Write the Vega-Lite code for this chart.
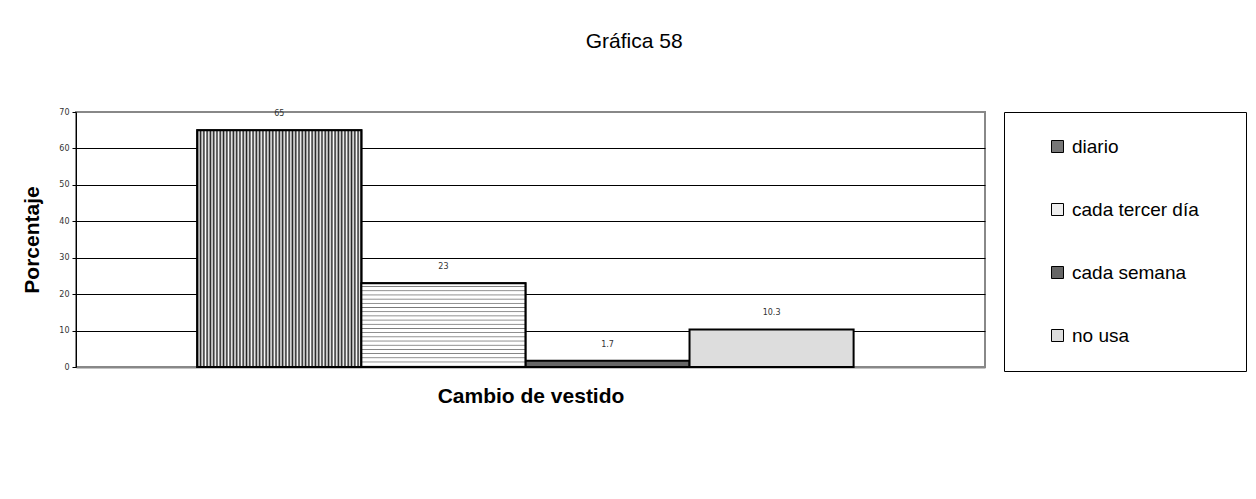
{
  "$schema": "https://vega.github.io/schema/vega-lite/v6.json",
  "width": 909,
  "height": 255,
  "padding": {"left": 21, "top": 31, "right": 3, "bottom": 5},
  "background": "white",
  "title": {"text": "Gráfica 58", "font": "Liberation Sans", "fontSize": 21, "fontWeight": "normal", "color": "black", "anchor": "middle", "frame": "bounds", "offset": 56},
  "data": {"values": [
    {"cat": "diario", "val": 65},
    {"cat": "cada tercer día", "val": 23},
    {"cat": "cada semana", "val": 1.7},
    {"cat": "no usa", "val": 10.3}
  ]},
  "encoding": {
    "x": {"field": "cat", "type": "nominal", "sort": ["diario", "cada tercer día", "cada semana", "no usa"],
      "scale": {"paddingInner": 0, "paddingOuter": 0.77, "align": 0.48},
      "axis": {"title": "Cambio de vestido", "labels": false, "ticks": false, "domainColor": "#888", "domainWidth": 2, "titleFont": "Liberation Sans", "titleFontSize": 21, "titleFontWeight": "bold", "titleColor": "black", "titlePadding": 18}},
    "y": {"field": "val", "type": "quantitative", "scale": {"domain": [0, 70], "nice": false},
      "axis": {"title": "Porcentaje", "values": [0, 10, 20, 30, 40, 50, 60, 70], "domainColor": "black", "domainWidth": 1, "tickColor": "black", "tickSize": 4, "labelFont": "DejaVu Sans", "labelFontSize": 8, "labelColor": "#333", "labelPadding": 3,
        "gridColor": {"condition": {"test": "datum.value === 0 || datum.value === 70", "value": "#888"}, "value": "black"}, "gridWidth": 1,
        "titleFont": "Liberation Sans", "titleFontSize": 21, "titleFontWeight": "bold", "titleColor": "black", "titlePadding": 16}}
  },
  "layer": [
    {
      "mark": {"type": "bar", "stroke": "black", "strokeWidth": 2},
      "encoding": {
        "fill": {"field": "cat", "type": "nominal",
          "scale": {"domain": ["diario", "cada tercer día", "cada semana", "no usa"], "range": ["#777", "#eeeeee", "#666", "#dddddd"]},
          "legend": {"title": " ", "titleOrient": "right", "titlePadding": 22, "titleFontSize": 10, "orient": "right", "offset": 19, "padding": 25, "strokeColor": "black", "symbolType": "square", "symbolSize": 144, "symbolStrokeColor": "black", "symbolStrokeWidth": 1, "symbolOffset": 19, "labelFont": "Liberation Sans", "labelFontSize": 19, "labelColor": "black", "labelOffset": 5, "labelLimit": 400, "rowPadding": 43}}
      }
    },
    {
      "transform": [{"filter": "datum.cat === 'diario'"}],
      "mark": {"type": "bar", "stroke": "black", "strokeWidth": 2, "fill": {"gradient": "linear", "x1": 0, "y1": 0, "x2": 1, "y2": 0, "stops": [
        {"offset": 0.00, "color": "#222"}, {"offset": 0.01, "color": "#fff"}, {"offset": 0.02, "color": "#222"}, {"offset": 0.03, "color": "#fff"}, {"offset": 0.04, "color": "#222"}, {"offset": 0.05, "color": "#fff"}, {"offset": 0.06, "color": "#222"}, {"offset": 0.07, "color": "#fff"}, {"offset": 0.08, "color": "#222"}, {"offset": 0.09, "color": "#fff"},
        {"offset": 0.10, "color": "#222"}, {"offset": 0.11, "color": "#fff"}, {"offset": 0.12, "color": "#222"}, {"offset": 0.13, "color": "#fff"}, {"offset": 0.14, "color": "#222"}, {"offset": 0.15, "color": "#fff"}, {"offset": 0.16, "color": "#222"}, {"offset": 0.17, "color": "#fff"}, {"offset": 0.18, "color": "#222"}, {"offset": 0.19, "color": "#fff"},
        {"offset": 0.20, "color": "#222"}, {"offset": 0.21, "color": "#fff"}, {"offset": 0.22, "color": "#222"}, {"offset": 0.23, "color": "#fff"}, {"offset": 0.24, "color": "#222"}, {"offset": 0.25, "color": "#fff"}, {"offset": 0.26, "color": "#222"}, {"offset": 0.27, "color": "#fff"}, {"offset": 0.28, "color": "#222"}, {"offset": 0.29, "color": "#fff"},
        {"offset": 0.30, "color": "#222"}, {"offset": 0.31, "color": "#fff"}, {"offset": 0.32, "color": "#222"}, {"offset": 0.33, "color": "#fff"}, {"offset": 0.34, "color": "#222"}, {"offset": 0.35, "color": "#fff"}, {"offset": 0.36, "color": "#222"}, {"offset": 0.37, "color": "#fff"}, {"offset": 0.38, "color": "#222"}, {"offset": 0.39, "color": "#fff"},
        {"offset": 0.40, "color": "#222"}, {"offset": 0.41, "color": "#fff"}, {"offset": 0.42, "color": "#222"}, {"offset": 0.43, "color": "#fff"}, {"offset": 0.44, "color": "#222"}, {"offset": 0.45, "color": "#fff"}, {"offset": 0.46, "color": "#222"}, {"offset": 0.47, "color": "#fff"}, {"offset": 0.48, "color": "#222"}, {"offset": 0.49, "color": "#fff"},
        {"offset": 0.50, "color": "#222"}, {"offset": 0.51, "color": "#fff"}, {"offset": 0.52, "color": "#222"}, {"offset": 0.53, "color": "#fff"}, {"offset": 0.54, "color": "#222"}, {"offset": 0.55, "color": "#fff"}, {"offset": 0.56, "color": "#222"}, {"offset": 0.57, "color": "#fff"}, {"offset": 0.58, "color": "#222"}, {"offset": 0.59, "color": "#fff"},
        {"offset": 0.60, "color": "#222"}, {"offset": 0.61, "color": "#fff"}, {"offset": 0.62, "color": "#222"}, {"offset": 0.63, "color": "#fff"}, {"offset": 0.64, "color": "#222"}, {"offset": 0.65, "color": "#fff"}, {"offset": 0.66, "color": "#222"}, {"offset": 0.67, "color": "#fff"}, {"offset": 0.68, "color": "#222"}, {"offset": 0.69, "color": "#fff"},
        {"offset": 0.70, "color": "#222"}, {"offset": 0.71, "color": "#fff"}, {"offset": 0.72, "color": "#222"}, {"offset": 0.73, "color": "#fff"}, {"offset": 0.74, "color": "#222"}, {"offset": 0.75, "color": "#fff"}, {"offset": 0.76, "color": "#222"}, {"offset": 0.77, "color": "#fff"}, {"offset": 0.78, "color": "#222"}, {"offset": 0.79, "color": "#fff"},
        {"offset": 0.80, "color": "#222"}, {"offset": 0.81, "color": "#fff"}, {"offset": 0.82, "color": "#222"}, {"offset": 0.83, "color": "#fff"}, {"offset": 0.84, "color": "#222"}, {"offset": 0.85, "color": "#fff"}, {"offset": 0.86, "color": "#222"}, {"offset": 0.87, "color": "#fff"}, {"offset": 0.88, "color": "#222"}, {"offset": 0.89, "color": "#fff"},
        {"offset": 0.90, "color": "#222"}, {"offset": 0.91, "color": "#fff"}, {"offset": 0.92, "color": "#222"}, {"offset": 0.93, "color": "#fff"}, {"offset": 0.94, "color": "#222"}, {"offset": 0.95, "color": "#fff"}, {"offset": 0.96, "color": "#222"}, {"offset": 0.97, "color": "#fff"}, {"offset": 0.98, "color": "#222"}, {"offset": 0.99, "color": "#fff"},
        {"offset": 1.00, "color": "#222"}
      ]}}
    },
    {
      "transform": [{"filter": "datum.cat === 'cada tercer día'"}],
      "mark": {"type": "bar", "stroke": "black", "strokeWidth": 2, "fill": {"gradient": "linear", "x1": 0, "y1": 0, "x2": 0, "y2": 1, "stops": [
        {"offset": 0.00, "color": "#fff"}, {"offset": 0.03, "color": "#fff"}, {"offset": 0.04, "color": "#777"},
        {"offset": 0.05, "color": "#fff"}, {"offset": 0.08, "color": "#fff"}, {"offset": 0.09, "color": "#777"},
        {"offset": 0.10, "color": "#fff"}, {"offset": 0.13, "color": "#fff"}, {"offset": 0.14, "color": "#777"},
        {"offset": 0.15, "color": "#fff"}, {"offset": 0.18, "color": "#fff"}, {"offset": 0.19, "color": "#777"},
        {"offset": 0.20, "color": "#fff"}, {"offset": 0.23, "color": "#fff"}, {"offset": 0.24, "color": "#777"},
        {"offset": 0.25, "color": "#fff"}, {"offset": 0.28, "color": "#fff"}, {"offset": 0.29, "color": "#777"},
        {"offset": 0.30, "color": "#fff"}, {"offset": 0.33, "color": "#fff"}, {"offset": 0.34, "color": "#777"},
        {"offset": 0.35, "color": "#fff"}, {"offset": 0.38, "color": "#fff"}, {"offset": 0.39, "color": "#777"},
        {"offset": 0.40, "color": "#fff"}, {"offset": 0.43, "color": "#fff"}, {"offset": 0.44, "color": "#777"},
        {"offset": 0.45, "color": "#fff"}, {"offset": 0.48, "color": "#fff"}, {"offset": 0.49, "color": "#777"},
        {"offset": 0.50, "color": "#fff"}, {"offset": 0.53, "color": "#fff"}, {"offset": 0.54, "color": "#777"},
        {"offset": 0.55, "color": "#fff"}, {"offset": 0.58, "color": "#fff"}, {"offset": 0.59, "color": "#777"},
        {"offset": 0.60, "color": "#fff"}, {"offset": 0.63, "color": "#fff"}, {"offset": 0.64, "color": "#777"},
        {"offset": 0.65, "color": "#fff"}, {"offset": 0.68, "color": "#fff"}, {"offset": 0.69, "color": "#777"},
        {"offset": 0.70, "color": "#fff"}, {"offset": 0.73, "color": "#fff"}, {"offset": 0.74, "color": "#777"},
        {"offset": 0.75, "color": "#fff"}, {"offset": 0.78, "color": "#fff"}, {"offset": 0.79, "color": "#777"},
        {"offset": 0.80, "color": "#fff"}, {"offset": 0.83, "color": "#fff"}, {"offset": 0.84, "color": "#777"},
        {"offset": 0.85, "color": "#fff"}, {"offset": 0.88, "color": "#fff"}, {"offset": 0.89, "color": "#777"},
        {"offset": 0.90, "color": "#fff"}, {"offset": 0.93, "color": "#fff"}, {"offset": 0.94, "color": "#777"},
        {"offset": 0.95, "color": "#fff"}, {"offset": 0.98, "color": "#fff"}, {"offset": 0.99, "color": "#777"},
        {"offset": 1.00, "color": "#fff"}
      ]}}
    },
    {
      "mark": {"type": "text", "baseline": "bottom", "dy": -12, "font": "DejaVu Sans", "fontSize": 8, "color": "#333"},
      "encoding": {"text": {"field": "val", "type": "quantitative"}}
    }
  ],
  "config": {
    "view": {"stroke": "#888", "strokeWidth": 2}
  }
}
